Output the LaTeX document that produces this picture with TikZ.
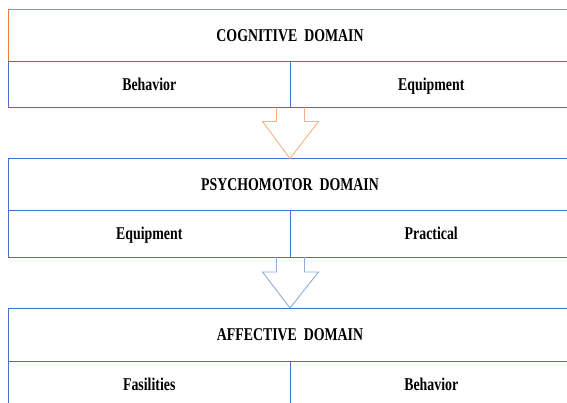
\documentclass[tikz,border=0pt]{standalone}
\usepackage{fontspec}
\setmainfont{Liberation Serif}
\usepackage{tikz}
\usetikzlibrary{calc}
\definecolor{bg}{HTML}{FFFFFF}
\definecolor{orline}{HTML}{ED7D31}
\definecolor{orarr}{HTML}{F4B183}
\definecolor{blline}{HTML}{4472C4}
\definecolor{blarr}{HTML}{8FAADC}
\definecolor{ink}{HTML}{000000}
\newcommand{\sqz}[1]{\scalebox{0.77}[1]{#1}}
\tikzset{
  dom/.style={draw=blline, line width=1pt, anchor=north west, outer sep=0pt, inner sep=0pt,
    minimum width=564pt, minimum height=52.5pt, text=ink, text height=12.5pt, text depth=0.5pt,
    font=\fontsize{18}{20}\selectfont\bfseries},
  cell/.style={dom, minimum width=282.5pt, minimum height=45.5pt},
  orarrow/.style={draw=orarr, line width=0.9pt, line join=miter},
  blarrow/.style={draw=blarr, line width=0.9pt, line join=miter}
}

\begin{document}
\begin{tikzpicture}[x=1pt, y=-1pt]
  \useasboundingbox (0,0) rectangle (567,403);
  \clip (0,0) rectangle (567,403);

  \node[dom, draw=orline] (cog) at (8,9.5) {\sqz{COGNITIVE~~DOMAIN}};
  \node[cell] (cogL) at (cog.south west) {\sqz{Behavior}};
  \node[cell, minimum width=281.5pt] (cogR) at (cogL.north east) {\sqz{Equipment}};

  \node[dom] (psy) at (8,158.5) {\sqz{PSYCHOMOTOR~~DOMAIN}};
  \node[cell, minimum height=46pt] (psyL) at (psy.south west) {\sqz{Equipment}};
  \node[cell, minimum height=46pt, minimum width=281.5pt] (psyR) at (psyL.north east) {\sqz{Practical}};

  \node[dom, minimum height=53pt] (aff) at (8,308) {\sqz{AFFECTIVE~~DOMAIN}};
  \node[cell, minimum height=46pt] (affL) at (aff.south west) {\sqz{Fasilities}};
  \node[cell, minimum height=46pt, minimum width=281.5pt] (affR) at (affL.north east) {\sqz{Behavior}};

  % block arrows
  \coordinate (a1) at (cogL.south east);
  \draw[orarrow] ($(a1)+(-14,0)$) -- ++(0,14) -- ++(-14,0) -- (psy.north)
    -- ($(a1)+(28,14)$) -- ++(-14,0) -- ++(0,-14);
  \coordinate (a2) at (psyL.south east);
  \draw[blarrow] ($(a2)+(-14,0)$) -- ++(0,15) -- ++(-14,0) -- (aff.north)
    -- ($(a2)+(28,15)$) -- ++(-14,0) -- ++(0,-15);
\end{tikzpicture}
\end{document}
